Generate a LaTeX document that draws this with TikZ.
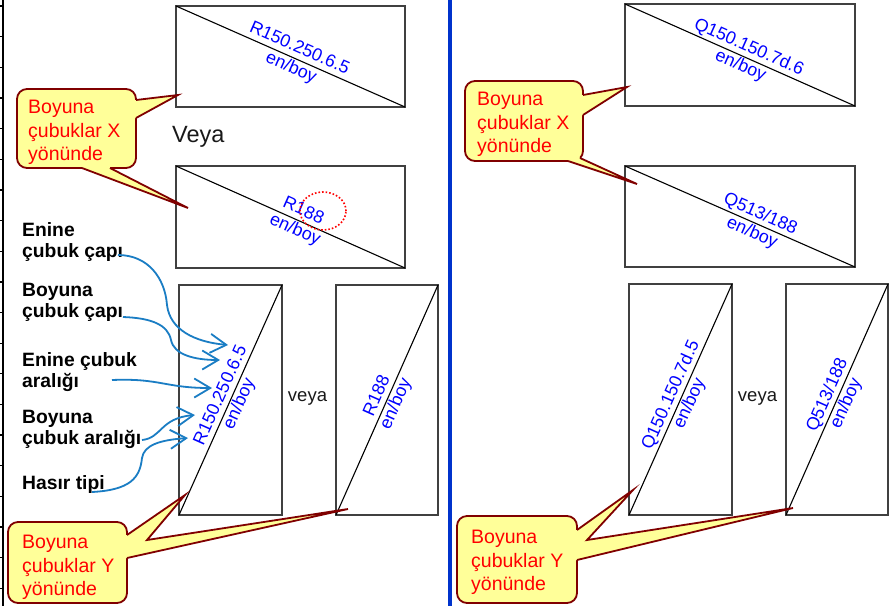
\documentclass[tikz,border=0pt]{standalone}
\usepackage{fontspec}
\setmainfont{Liberation Sans}
\usetikzlibrary{arrows.meta,shapes.geometric}
\definecolor{cfill}{HTML}{FFFF99}
\definecolor{cline}{HTML}{800000}
\definecolor{arrblue}{HTML}{1A7DC4}
\definecolor{divblue}{HTML}{0033CC}
\definecolor{boxgray}{HTML}{404040}
\begin{document}
\begin{tikzpicture}[x=1pt,y=-1pt,
  mesh/.style={draw=boxgray, line width=1.1pt, inner sep=0pt, outer sep=0pt},
  diag/.style={draw=black, line width=1.1pt},
  code/.style={text=blue, font=\fontsize{17.8}{20.5}\selectfont, align=center, inner sep=0pt, sloped},
  lbl/.style={font=\fontsize{19.3}{21.5}\selectfont\bfseries, align=left, anchor=north west, inner sep=0pt},
  callbox/.style={draw=cline, fill=cfill, line width=1.8pt, rounded corners=10pt, inner sep=0pt},
  callptr/.style={draw=cline, line width=1.8pt, line join=miter},
  calltext/.style={text=red, font=\fontsize{19.5}{23.5}\selectfont, align=left, anchor=north west, inner sep=0pt},
  barrow/.style={draw=arrblue, line width=1.8pt, -{Straight Barb[length=16pt,width=19pt]}},
  orword/.style={font=\fontsize{18.5}{22}\selectfont, text=black!90, anchor=base, inner sep=0pt},
]
\useasboundingbox (0,0) rectangle (890,606);
\fill[white] (0,0) rectangle (890,606);

% left ruler
\draw[line width=1.5pt] (3,0) -- (3,606);
\foreach \i in {0,...,19} \draw[line width=1.3pt] (0,6+30.65*\i) -- (4,6+30.65*\i);

% divider
\draw[divblue, line width=3.5pt] (450,0) -- (450,606);

% left panel boxes
\node[mesh, minimum width=229pt, minimum height=101pt] (b1) at (290.5,56.5) {};
\draw[diag] (b1.north west) -- (b1.south east) node[code, pos=0.52] {R150.250.6.5\\en/boy};
\node[mesh, minimum width=229pt, minimum height=102pt] (b2) at (290.5,217) {};
\draw[diag] (b2.north west) -- (b2.south east) node[code, pos=0.537] {R188\\en/boy};
\node[draw=red, dotted, line width=1.6pt, ellipse, minimum width=46pt, minimum height=38pt, inner sep=0pt] (circ) at (323,211) {};
\node[mesh, minimum width=103pt, minimum height=230pt] (b3) at (230.5,400) {};
\draw[diag] (b3.south west) -- (b3.north east) node[code, pos=0.5] {R150.250.6.5\\en/boy};
\node[mesh, minimum width=102pt, minimum height=230pt] (b4) at (387,400) {};
\draw[diag] (b4.south west) -- (b4.north east) node[code, pos=0.5] {R188\\en/boy};

\node[font=\fontsize{23.5}{27}\selectfont, text=black!90, anchor=north west, inner sep=0pt] (veya1) at (172,126) {Veya};
\node[orword] (veya2) at (307.5,401) {veya};

% right panel boxes
\node[mesh, minimum width=230pt, minimum height=102pt] (r1) at (740,55) {};
\draw[diag] (r1.north west) -- (r1.south east) node[code, pos=0.52] {Q150.150.7d.6\\en/boy};
\node[mesh, minimum width=230pt, minimum height=101pt] (r2) at (740,216.5) {};
\draw[diag] (r2.north west) -- (r2.south east) node[code, pos=0.57] {Q513/188\\en/boy};
\node[mesh, minimum width=103pt, minimum height=231pt] (r3) at (680.5,399.5) {};
\draw[diag] (r3.south west) -- (r3.north east) node[code, pos=0.5] {Q150.150.7d.5\\en/boy};
\node[mesh, minimum width=102pt, minimum height=231pt] (r4) at (837,399.5) {};
\draw[diag] (r4.south west) -- (r4.north east) node[code, pos=0.5] {Q513/188\\en/boy};
\node[orword] (veya3) at (757.5,401) {veya};

% labels
\node[lbl] (l1) at (22,222) {Enine\\çubuk çapı};
\node[lbl] (l2) at (22,283) {Boyuna\\çubuk çapı};
\node[lbl] (l3) at (22,352) {Enine çubuk\\aralığı};
\node[lbl] (l4) at (22,410) {Boyuna\\çubuk aralığı};
\node[lbl] (l5) at (22,475) {Hasır tipi};

% blue arrows
\coordinate (a1s) at (118,255); \coordinate (a1e) at (228,345);
\coordinate (a2s) at (123,317); \coordinate (a2e) at (220,360);
\coordinate (a3s) at (112,380); \coordinate (a3e) at (212,388);
\coordinate (a4s) at (142,440); \coordinate (a4e) at (195,415);
\coordinate (a5s) at (92,492);  \coordinate (a5e) at (188,438);
\draw[barrow] (a1s) .. controls (148,255) and (165,278) .. (167,305) .. controls (170,330) and (195,342) .. (a1e);
\draw[barrow] (a2s) .. controls (152,318) and (168,325) .. (171,340) .. controls (174,355) and (195,360) .. (a2e);
\draw[barrow] (a3s) .. controls (160,378) and (165,388) .. (a3e);
\draw[barrow] (a4s) .. controls (162,438) and (160,418) .. (a4e);
\draw[barrow] (a5s) .. controls (130,490) and (140,478) .. (142,458) .. controls (144,445) and (160,440) .. (a5e);

% callout left top
\node[callbox, minimum width=119pt, minimum height=79pt] (c1) at (76.5,128.5) {};
\fill[cfill] (136,100) -- (178,95) -- (136,118) -- (131,118) -- (131,100) -- cycle;
\draw[callptr] (136,100) -- (178,95) -- (136,118);
\fill[cfill] (82,168) -- (188,208) -- (110,168) -- (110,163) -- (82,163) -- cycle;
\draw[callptr] (82,168) -- (188,208) -- (110,168);
\node[calltext] (c1t) at (28,100) {Boyuna\\çubuklar X\\yönünde};

% callout right top
\node[callbox, minimum width=118pt, minimum height=80pt] (c2) at (524,121) {};
\fill[cfill] (583,95) -- (627,87) -- (583,115) -- (578,115) -- (578,95) -- cycle;
\draw[callptr] (583,95) -- (627,87) -- (583,115);
\fill[cfill] (568,161) -- (637,184) -- (580,158) -- (575,153) -- (568,156) -- cycle;
\draw[callptr] (568,161) -- (637,184) -- (580,158);
\node[calltext] (c2t) at (477,92) {Boyuna\\çubuklar X\\yönünde};

% callout left bottom
\node[callbox, minimum width=119pt, minimum height=81pt] (c3) at (67.5,562.5) {};
\fill[cfill] (127,535) -- (185,495) -- (147,540) -- (348,509) -- (127,558) -- (122,558) -- (122,535) -- cycle;
\draw[callptr] (127,535) -- (185,495) -- (147,540) -- (348,509) -- (127,558);
\node[calltext] (c3t) at (22,535) {Boyuna\\çubuklar Y\\yönünde};

% callout right bottom
\node[callbox, minimum width=120pt, minimum height=87pt] (c4) at (517,559.5) {};
\fill[cfill] (577,530) -- (633,490) -- (587,540) -- (793,508) -- (577,560) -- (572,560) -- (572,530) -- cycle;
\draw[callptr] (577,530) -- (633,490) -- (587,540) -- (793,508) -- (577,560);
\node[calltext] (c4t) at (471,530) {Boyuna\\çubuklar Y\\yönünde};
\end{tikzpicture}
\end{document}
